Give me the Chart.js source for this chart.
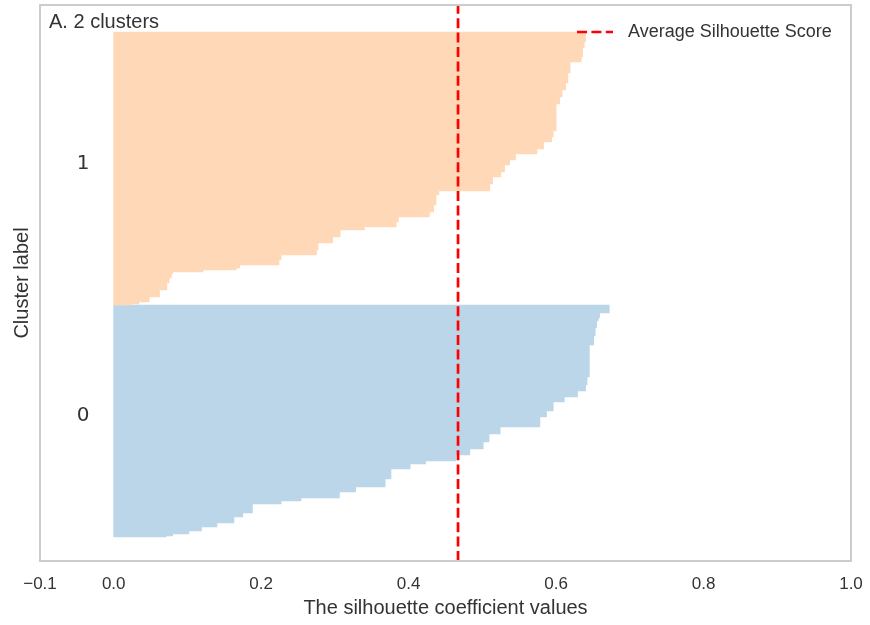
<!DOCTYPE html>
<html lang="en">
<head>
    <meta charset="UTF-8">
    <title>Silhouette plot - 2 clusters</title>
    <style>
        body { margin: 0; background: #ffffff; }
        #wrap { width: 870px; height: 625px; position: relative; }
    </style>
    <script src="https://cdn.jsdelivr.net/npm/chart.js"></script>
</head>
<body>
    <div id="wrap"><canvas id="silChart"></canvas></div>

    <script>
        // silhouette values, sorted ascending within each cluster,
        // stored as steps (value, number of samples at that value)
        const cluster0Values = [0.071, 0.080, 0.102, 0.119, 0.140, 0.163, 0.175, 0.188, 0.227, 0.254,
                                0.306, 0.328, 0.368, 0.376, 0.402, 0.423, 0.464, 0.483, 0.501, 0.509,
                                0.524, 0.578, 0.587, 0.596, 0.611, 0.629, 0.640, 0.642, 0.645, 0.651,
                                0.653, 0.655, 0.657, 0.659, 0.672];
        const cluster0Counts = [1, 2, 3, 4, 4, 6, 4, 9, 3, 3,
                                6, 5, 8, 10, 5, 3, 6, 6, 7, 8,
                                7, 10, 6, 9, 5, 6, 6, 8, 32, 9,
                                8, 7, 3, 5, 8];

        const cluster1Values = [0.023, 0.034, 0.048, 0.062, 0.072, 0.075, 0.078, 0.080, 0.121, 0.166,
                                0.171, 0.224, 0.227, 0.275, 0.277, 0.297, 0.307, 0.340, 0.383, 0.386,
                                0.428, 0.434, 0.437, 0.441, 0.510, 0.514, 0.525, 0.530, 0.537, 0.545,
                                0.574, 0.583, 0.594, 0.596, 0.600, 0.605, 0.608, 0.613, 0.616, 0.619,
                                0.634, 0.636, 0.638, 0.640];
        const cluster1Counts = [1, 2, 5, 7, 7, 5, 4, 2, 2, 2,
                                3, 5, 5, 5, 7, 6, 7, 3, 5, 5,
                                5, 7, 10, 4, 7, 7, 5, 7, 5, 6,
                                5, 7, 5, 6, 27, 7, 7, 7, 10, 11,
                                5, 9, 6, 10];

        const clusterLabels = ['0', '1'];
        const clusterColors = ['rgb(188, 214, 233)', 'rgb(255, 217, 183)'];
        const avgScore = 0.467;
        const xTickValues = [-0.1, 0.0, 0.2, 0.4, 0.6, 0.8, 1.0];
        const panelTitle = 'A. 2 clusters';

        // y layout (sample units)
        const yStart = 24;
        const yMax = 556;

        function expand(values, counts) {
            const out = [];
            values.forEach((v, i) => {
                for (let k = 0; k < counts[i]; k++) out.push(v);
            });
            return out;
        }

        const clusters = [expand(cluster0Values, cluster0Counts), expand(cluster1Values, cluster1Counts)];

        // build bar points, one per sample, stacked clusters from the bottom
        const barPoints = [];
        const barColors = [];
        const clusterMid = [];
        let yLower = yStart;
        clusters.forEach((samples, c) => {
            samples.forEach((v, j) => {
                barPoints.push({ x: v, y: yLower + j + 0.5 });
                barColors.push(clusterColors[c]);
            });
            clusterMid.push(yLower + samples.length / 2);
            yLower += samples.length;
        });

        const textColor = '#333333';
        const sans = '"Liberation Sans", Arial, sans-serif';

        // frame, panel title, cluster numbers and legend drawn inside the plot area
        const overlay = {
            id: 'overlay',
            afterDatasetsDraw(chart) {
                const { ctx, chartArea: a, scales: { x, y } } = chart;
                ctx.save();
                ctx.strokeStyle = '#cccccc';
                ctx.lineWidth = 2;
                ctx.strokeRect(a.left, a.top, a.right - a.left, a.bottom - a.top);

                ctx.fillStyle = textColor;
                ctx.textAlign = 'left';
                ctx.textBaseline = 'alphabetic';
                ctx.font = '20px "DejaVu Sans", sans-serif';
                clusterLabels.forEach((lab, i) => {
                    ctx.fillText(lab, x.getPixelForValue(-0.05), y.getPixelForValue(clusterMid[i]));
                });

                ctx.font = '20px ' + sans;
                ctx.fillText(panelTitle, a.left + 9, a.top + 23);

                // legend
                ctx.strokeStyle = 'red';
                ctx.lineWidth = 2.7;
                ctx.setLineDash([10, 4.4]);
                ctx.beginPath();
                ctx.moveTo(a.right - 274, a.top + 27);
                ctx.lineTo(a.right - 238, a.top + 27);
                ctx.stroke();
                ctx.setLineDash([]);
                ctx.font = '18px ' + sans;
                ctx.textBaseline = 'middle';
                ctx.fillText('Average Silhouette Score', a.right - 223, a.top + 27);
                ctx.restore();
            }
        };

        const ctx = document.getElementById('silChart').getContext('2d');
        new Chart(ctx, {
            type: 'bar',
            data: {
                datasets: [
                    {
                        type: 'line',
                        label: 'Average Silhouette Score',
                        data: [{ x: avgScore, y: 0 }, { x: avgScore, y: yMax }],
                        borderColor: 'red',
                        borderWidth: 2.7,
                        borderDash: [10, 4.4],
                        pointRadius: 0,
                        fill: false,
                        order: 0
                    },
                    {
                        label: 'silhouette',
                        data: barPoints,
                        backgroundColor: barColors,
                        borderWidth: 0,
                        barPercentage: 1,
                        categoryPercentage: 1,
                        order: 1
                    }
                ]
            },
            options: {
                indexAxis: 'y',
                responsive: true,
                maintainAspectRatio: false,
                animation: false,
                layout: { padding: { top: 5, right: 19, left: 0, bottom: 0 } },
                plugins: {
                    legend: { display: false },
                    tooltip: { enabled: false }
                },
                scales: {
                    x: {
                        type: 'linear',
                        min: -0.1,
                        max: 1.0,
                        offset: false,
                        grid: { display: false },
                        border: { display: false },
                        afterBuildTicks: (s) => { s.ticks = xTickValues.map(v => ({ value: v })); },
                        afterFit: (s) => { s.height = 64; s.paddingLeft = 0; s.paddingRight = 0; },
                        ticks: {
                            color: textColor,
                            padding: 5,
                            font: { family: sans, size: 17 },
                            callback: (v) => (v < 0 ? '\u2212' : '') + Math.abs(v).toFixed(1)
                        },
                        title: {
                            display: true,
                            text: 'The silhouette coefficient values',
                            color: textColor,
                            font: { family: sans, size: 20 },
                            padding: { top: 0, bottom: 5 }
                        }
                    },
                    y: {
                        type: 'linear',
                        min: 0,
                        max: yMax,
                        offset: false,
                        grid: { display: false },
                        border: { display: false },
                        ticks: { display: false },
                        afterFit: (s) => { s.width = 40; s.paddingTop = 0; s.paddingBottom = 0; },
                        title: {
                            display: true,
                            text: 'Cluster label',
                            color: textColor,
                            font: { family: sans, size: 20 },
                            padding: { top: 10, bottom: 0 }
                        }
                    }
                }
            },
            plugins: [overlay]
        });
    </script>
</body>
</html>
